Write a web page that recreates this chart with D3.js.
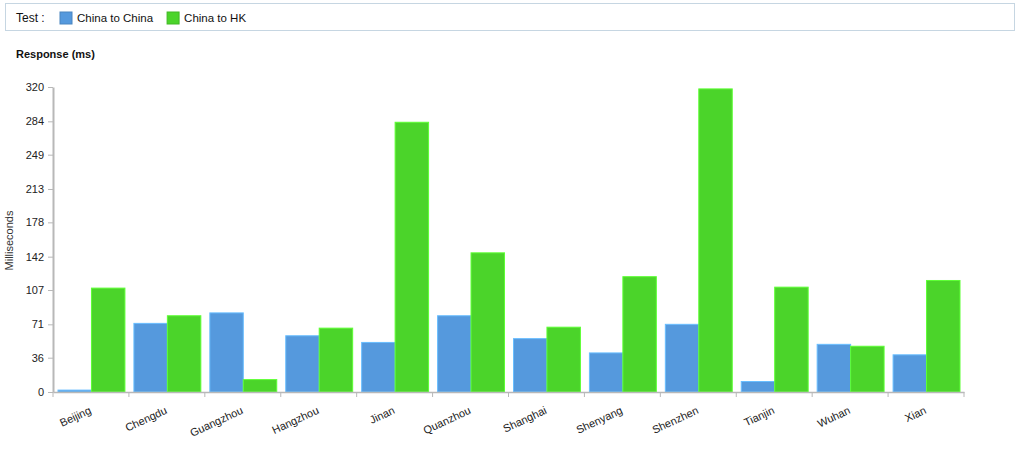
<!DOCTYPE html>
<html>
<head>
<meta charset="utf-8">
<script src="https://cdn.jsdelivr.net/npm/d3@7"></script>
<style>
  body { margin: 0; background: #fff; font-family: "Liberation Sans", Arial, sans-serif; }
  .legend-box { position: absolute; left: 5px; top: 3px; width: 1010px; height: 28px;
    border: 1px solid #c6d6e2; box-sizing: border-box; }
  .axis text { font-size: 11px; fill: #222; }
  .axis path, .axis line { stroke: #b8b8b8; }
</style>
</head>
<body>
<div class="legend-box"></div>
<svg id="chart" width="1024" height="462" style="position:absolute;left:0;top:0"></svg>
<script>
const cities = ['Beijing', 'Chengdu', 'Guangzhou', 'Hangzhou', 'Jinan', 'Quanzhou',
  'Shanghai', 'Shenyang', 'Shenzhen', 'Tianjin', 'Wuhan', 'Xian'];
const chinaToChina = [2, 72, 83, 59, 52, 80, 56, 41, 71, 11, 50, 39];
const chinaToHK = [109, 80, 13, 67, 283, 146, 68, 121, 318, 110, 48, 117];
const seriesNames = ['China to China', 'China to HK'];
const seriesColors = ['#5599dd', '#4bd42a'];
const yTicks = [0, 36, 71, 107, 142, 178, 213, 249, 284, 320];

const svg = d3.select('#chart');
const margin = { left: 53, right: 60, top: 87, bottom: 70 };
const width = 1024 - margin.left - margin.right;
const height = 462 - margin.top - margin.bottom;

// legend
const legend = svg.append('g').attr('transform', 'translate(16,22)');
legend.append('text').attr('font-size', 12).attr('fill', '#111').text('Test :');
let lx = 44;
seriesNames.forEach((name, i) => {
  legend.append('rect').attr('x', lx).attr('y', -10).attr('width', 12).attr('height', 12)
    .attr('fill', seriesColors[i]).attr('stroke', d3.color(seriesColors[i]).darker(0.4));
  const t = legend.append('text').attr('x', lx + 17).attr('font-size', 11.5).attr('fill', '#111').text(name);
  lx += 17 + t.node().getComputedTextLength() + 14;
});

svg.append('text').attr('x', 16).attr('y', 58).attr('font-size', 11)
  .attr('font-weight', 'bold').attr('fill', '#111').text('Response (ms)');

const g = svg.append('g').attr('transform', `translate(${margin.left},${margin.top})`);

const x0 = d3.scaleBand().domain(cities).range([0, width]).paddingInner(0).paddingOuter(0);
const x1 = d3.scaleBand().domain(seriesNames).range([5, x0.bandwidth() - 4]);
const y = d3.scaleLinear().domain([0, 320]).range([height, 0]);

const rows = cities.map((c, i) => ({ city: c, values: [chinaToChina[i], chinaToHK[i]] }));

g.selectAll('.group')
  .data(rows)
  .enter().append('g')
  .attr('class', 'group')
  .attr('transform', d => `translate(${x0(d.city)},0)`)
  .selectAll('rect')
  .data(d => d.values.map((v, i) => ({ name: seriesNames[i], value: v, i })))
  .enter().append('rect')
  .attr('x', d => x1(d.name))
  .attr('width', x1.bandwidth())
  .attr('y', d => y(d.value))
  .attr('height', d => height - y(d.value))
  .attr('fill', d => seriesColors[d.i])
  .attr('stroke', d => d3.color(seriesColors[d.i]).brighter(0.6))
  .attr('stroke-width', 1);

// y axis
const yAxis = g.append('g').attr('class', 'axis')
  .call(d3.axisLeft(y).tickValues(yTicks).tickSize(5).tickPadding(4).tickSizeOuter(0));
yAxis.select('.domain').attr('stroke-width', 2);

// x axis, ticks at group boundaries
const xAxis = g.append('g').attr('class', 'axis').attr('transform', `translate(0,${height})`)
  .call(d3.axisBottom(x0).tickSize(0).tickSizeOuter(0).tickFormat(''));
xAxis.select('.domain').attr('stroke-width', 1.5);
const bounds = cities.map(c => x0(c)).concat([width]);
xAxis.selectAll('.bound').data(bounds).enter().append('line')
  .attr('x1', d => d).attr('x2', d => d).attr('y1', 0).attr('y2', 5)
  .attr('stroke', '#b8b8b8');
xAxis.selectAll('.xlabel').data(cities).enter().append('text')
  .attr('transform', d => `translate(${x0(d) + x0.bandwidth() / 2 + 1},21) rotate(-25)`)
  .attr('text-anchor', 'end')
  .attr('font-size', 11)
  .attr('fill', '#444')
  .text(d => d);

svg.append('text')
  .attr('transform', `translate(13,${margin.top + height / 2 + 1}) rotate(-90)`)
  .attr('text-anchor', 'middle').attr('font-size', 11).attr('fill', '#333')
  .text('Milliseconds');
</script>
</body>
</html>
